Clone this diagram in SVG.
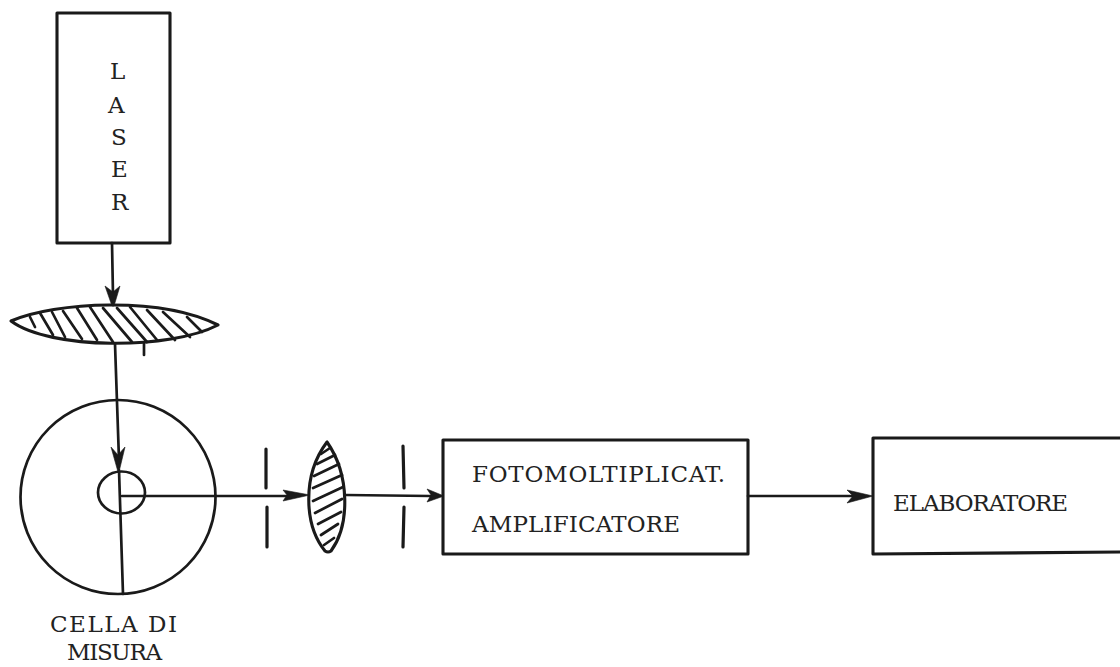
<svg xmlns="http://www.w3.org/2000/svg" width="1120" height="667" viewBox="0 0 1120 667">
<style>
.s{fill:none;stroke:#1a1a1a;stroke-width:2.7;stroke-linecap:round;stroke-linejoin:round}
.t{fill:none;stroke:#1a1a1a;stroke-width:3.2;stroke-linecap:round}
.h{fill:none;stroke:#1a1a1a;stroke-width:2.7;stroke-linecap:round}
.w{fill:#fff;stroke:#1a1a1a;stroke-width:3.1;stroke-linejoin:round}
.a{fill:#1a1a1a;stroke:#1a1a1a;stroke-width:0.6}
text{font-family:"DejaVu Serif","Liberation Serif",serif;font-size:23px;fill:#222}
</style>
<rect width="1120" height="667" fill="#fff"/>
<g id="laser">
<rect class="w" x="57" y="13" width="113" height="230"/>
<text x="110" y="79">L</text><text x="108" y="113">A</text><text x="111" y="145">S</text><text x="111" y="177">E</text><text x="111" y="210">R</text>
</g>
<g id="cell">
<ellipse class="s" cx="118" cy="497" rx="97.5" ry="97"/>
<ellipse class="s" cx="121.5" cy="492.5" rx="23.5" ry="21"/>
<path class="s" d="M119 470L123 594"/>
<text x="50" y="632" textLength="127" lengthAdjust="spacing">CELLA DI</text>
<text x="67" y="660" textLength="95" lengthAdjust="spacing">MISURA</text>
</g>
<g id="lens-1">
<path class="w" d="M11 321C55 302 160 296 218 325C170 350 50 350 11 321Z"/>
<path class="h" d="M30 317L35 327M40 313L53 335M52 312L65 337M63 311L82 339M77 308L97 340M90 307L113 342M103 308L132 342M117 308L147 342M130 307L157 340M147 310L175 340M163 312L190 337M187 317L202 332"/>
<path class="s" d="M144 344L144 355"/>
</g>
<g id="slit-1"><path class="t" d="M266 449L266 488M267 507L267 547"/></g>
<g id="lens-2">
<path class="w" d="M327 442C302 475 304 525 325 551Q328 553 331 551C350 525 350 475 327 442Z"/>
<path class="h" d="M321 454L330 448M317 464L335 455M314 476L339 464M313 488L342 475M313 501L343 487M315 513L342 499M318 524L341 512M321 535L338 524M324 545L334 538"/>
</g>
<g id="slit-2"><path class="t" d="M403 446L404 488M404 507L403 547"/></g>
<g id="photomultiplier">
<rect class="w" x="443" y="440" width="305" height="114"/>
<text x="472" y="482" textLength="253" lengthAdjust="spacing">FOTOMOLTIPLICAT.</text>
<text x="472" y="532" textLength="208" lengthAdjust="spacing">AMPLIFICATORE</text>
</g>
<g id="processor">
<path class="w" d="M1120 438L873 438L873 554L1120 552"/>
<text x="893" y="511" textLength="175" lengthAdjust="spacing">ELABORATORE</text>
</g>
<g id="connectors">
<path class="s" d="M112 243L113 295"/>
<path class="a" d="M105 286L113 292L120 286L114 306L112 306Z"/>
<path class="s" d="M115 344L119 460"/>
<path class="a" d="M111 447L118 455L125 447L119 472L118 472Z"/>
<path class="s" d="M122 496L290 496"/>
<path class="a" d="M283 490L310 495L283 501L287 495Z"/>
<path class="s" d="M346 495L430 496"/>
<path class="a" d="M427 489L444 496L427 502L431 495Z"/>
<path class="s" d="M748 496L855 496"/>
<path class="a" d="M847 490L873 496L847 503L853 496Z"/>
</g>
</svg>
